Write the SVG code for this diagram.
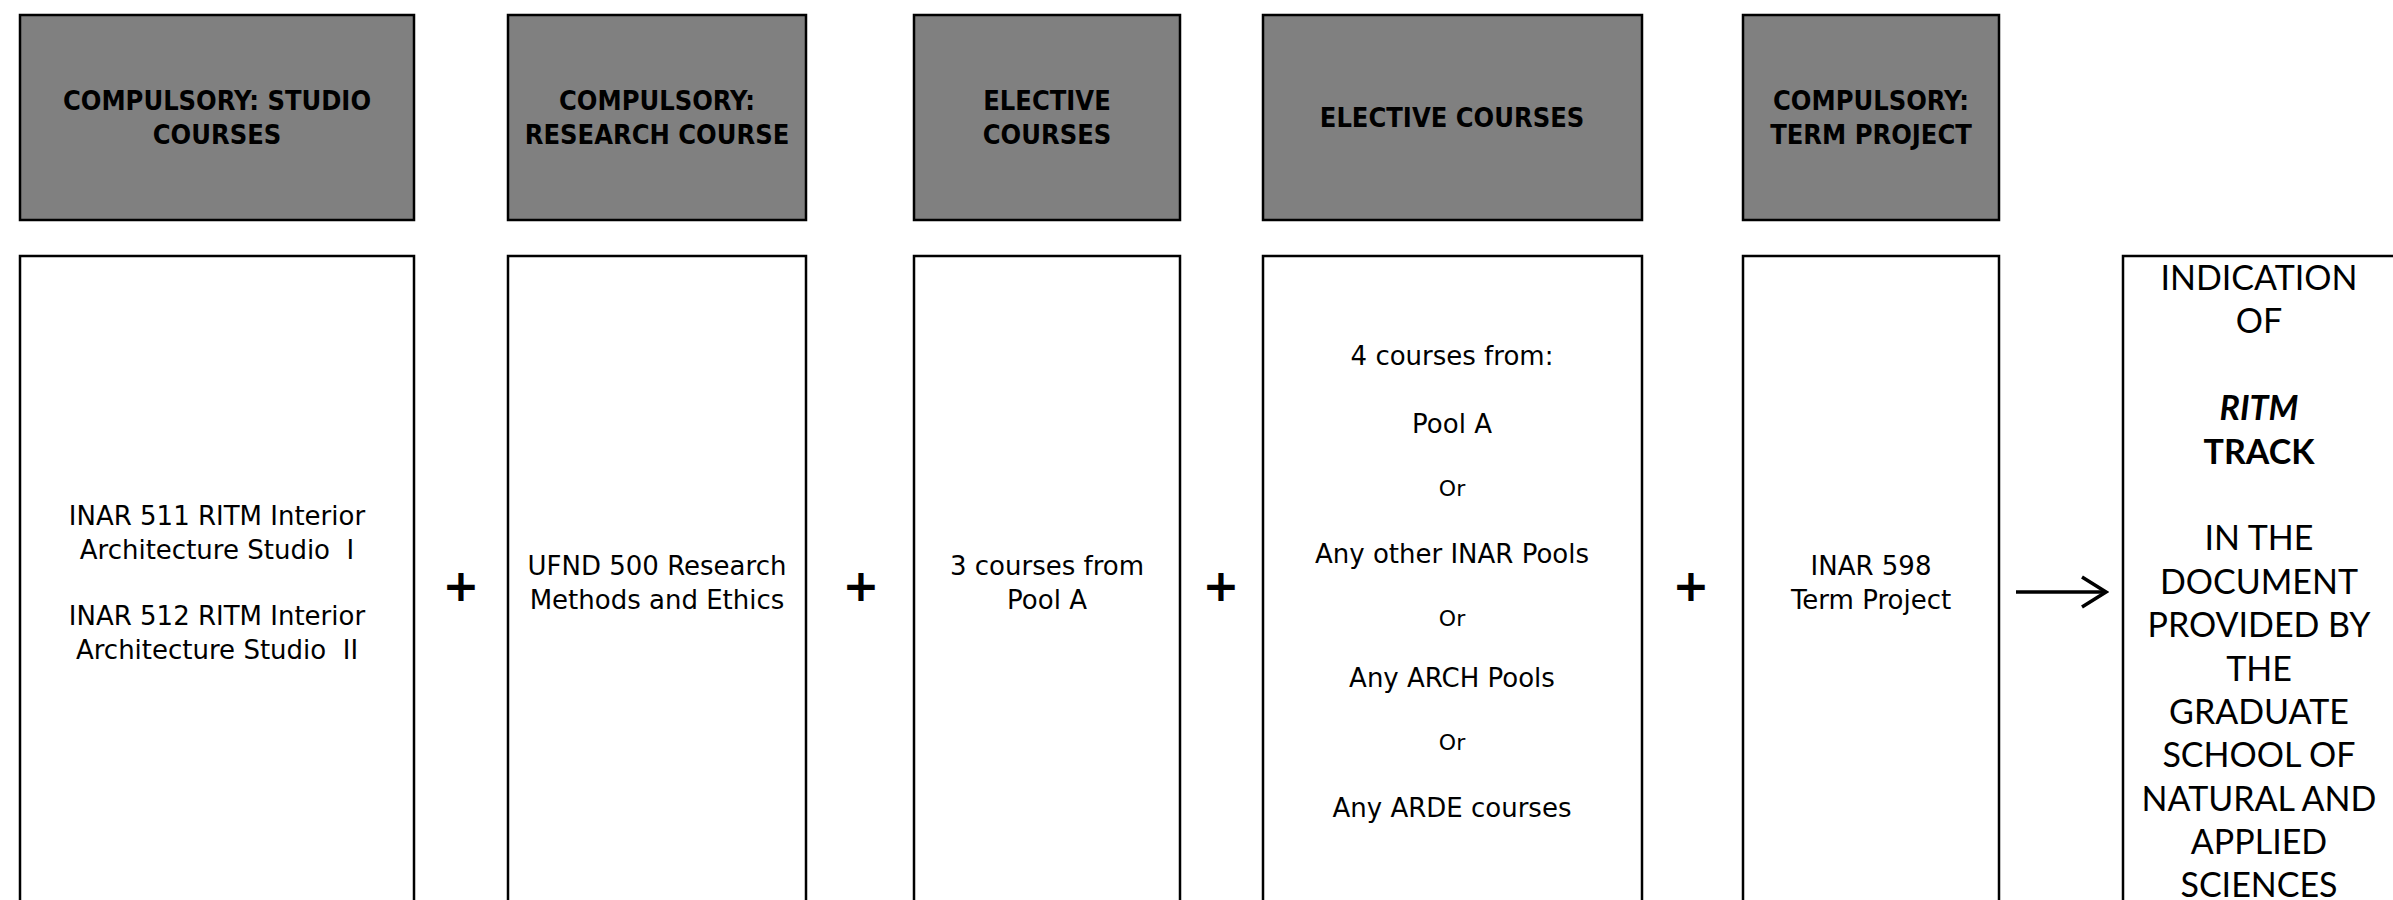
<svg xmlns="http://www.w3.org/2000/svg" width="2393" height="900" viewBox="0 0 2393 900">
<defs>
<style>
.hdr{fill:#808080;stroke:#000;stroke-width:2.5}
.box{fill:#fff;stroke:#000;stroke-width:2.5}
.ht{font-family:"DejaVu Sans Condensed","DejaVu Sans",sans-serif;font-weight:bold;font-size:27px;fill:#000;text-anchor:middle}
.bt{font-family:"DejaVu Sans",sans-serif;font-size:26px;fill:#000;text-anchor:middle}
.or{font-family:"DejaVu Sans",sans-serif;font-size:22px;fill:#000;text-anchor:middle}
.it{font-family:Lato,"Open Sans",sans-serif;font-size:34px;fill:#000;text-anchor:middle}
.pl{font-family:"DejaVu Sans",sans-serif;font-weight:bold;font-size:44px;fill:#000;text-anchor:middle}
</style>
<marker id="chev" viewBox="0 0 30 34" refX="27" refY="17" markerWidth="30" markerHeight="34" markerUnits="userSpaceOnUse" orient="auto">
<path d="M3,2 L27,17 L3,32" fill="none" stroke="#000" stroke-width="3.5" stroke-linejoin="miter"/>
</marker>
</defs>
<rect width="2393" height="900" fill="#fff"/>

<g id="hdr-studio">
<rect class="hdr" x="20" y="15" width="394" height="205"/>
<text class="ht" x="217" y="110">COMPULSORY: STUDIO</text>
<text class="ht" x="217" y="144">COURSES</text>
</g>
<g id="hdr-research">
<rect class="hdr" x="508" y="15" width="298" height="205"/>
<text class="ht" x="657" y="110">COMPULSORY:</text>
<text class="ht" x="657" y="144">RESEARCH COURSE</text>
</g>
<g id="hdr-elective1">
<rect class="hdr" x="914" y="15" width="266" height="205"/>
<text class="ht" x="1047" y="110">ELECTIVE</text>
<text class="ht" x="1047" y="144">COURSES</text>
</g>
<g id="hdr-elective2">
<rect class="hdr" x="1263" y="15" width="379" height="205"/>
<text class="ht" x="1452" y="127">ELECTIVE COURSES</text>
</g>
<g id="hdr-term">
<rect class="hdr" x="1743" y="15" width="256" height="205"/>
<text class="ht" x="1871" y="110">COMPULSORY:</text>
<text class="ht" x="1871" y="144">TERM PROJECT</text>
</g>

<g id="studio">
<rect class="box" x="20" y="256" width="394" height="660"/>
<text class="bt" x="217" y="525">INAR 511 RITM Interior</text>
<text class="bt" x="217" y="559">Architecture Studio&#160; I</text>
<text class="bt" x="217" y="625">INAR 512 RITM Interior</text>
<text class="bt" x="217" y="659">Architecture Studio&#160; II</text>
</g>
<g id="research">
<rect class="box" x="508" y="256" width="298" height="660"/>
<text class="bt" x="657" y="575">UFND 500 Research</text>
<text class="bt" x="657" y="609">Methods and Ethics</text>
</g>
<g id="elective1">
<rect class="box" x="914" y="256" width="266" height="660"/>
<text class="bt" x="1047" y="575">3 courses from</text>
<text class="bt" x="1047" y="609">Pool A</text>
</g>
<g id="elective2">
<rect class="box" x="1263" y="256" width="379" height="660"/>
<text class="bt" x="1452" y="365">4 courses from:</text>
<text class="bt" x="1452" y="433">Pool A</text>
<text class="or" x="1452" y="496">Or</text>
<text class="bt" x="1452" y="563">Any other INAR Pools</text>
<text class="or" x="1452" y="626">Or</text>
<text class="bt" x="1452" y="687">Any ARCH Pools</text>
<text class="or" x="1452" y="750">Or</text>
<text class="bt" x="1452" y="817">Any ARDE courses</text>
</g>
<g id="term">
<rect class="box" x="1743" y="256" width="256" height="660"/>
<text class="bt" x="1871" y="575">INAR 598</text>
<text class="bt" x="1871" y="609">Term Project</text>
</g>
<g id="indication">
<rect class="box" x="2123" y="256" width="280" height="660"/>
<text class="it" x="2259" y="290">INDICATION</text>
<text class="it" x="2259" y="333">OF</text>
<text class="it" x="2259" y="420" font-weight="bold" font-style="italic">RITM</text>
<text class="it" x="2259" y="464" font-weight="bold">TRACK</text>
<text class="it" x="2259" y="550">IN THE</text>
<text class="it" x="2259" y="594">DOCUMENT</text>
<text class="it" x="2259" y="637">PROVIDED BY</text>
<text class="it" x="2259" y="681">THE</text>
<text class="it" x="2259" y="724">GRADUATE</text>
<text class="it" x="2259" y="767">SCHOOL OF</text>
<text class="it" x="2259" y="811">NATURAL AND</text>
<text class="it" x="2259" y="854">APPLIED</text>
<text class="it" x="2259" y="897">SCIENCES</text>
</g>

<g id="connectors">
<text class="pl" x="461" y="601">+</text>
<text class="pl" x="861" y="601">+</text>
<text class="pl" x="1221" y="601">+</text>
<text class="pl" x="1691" y="601">+</text>
<line x1="2016" y1="592" x2="2106" y2="592" stroke="#000" stroke-width="3.5" marker-end="url(#chev)"/>
</g>
</svg>
